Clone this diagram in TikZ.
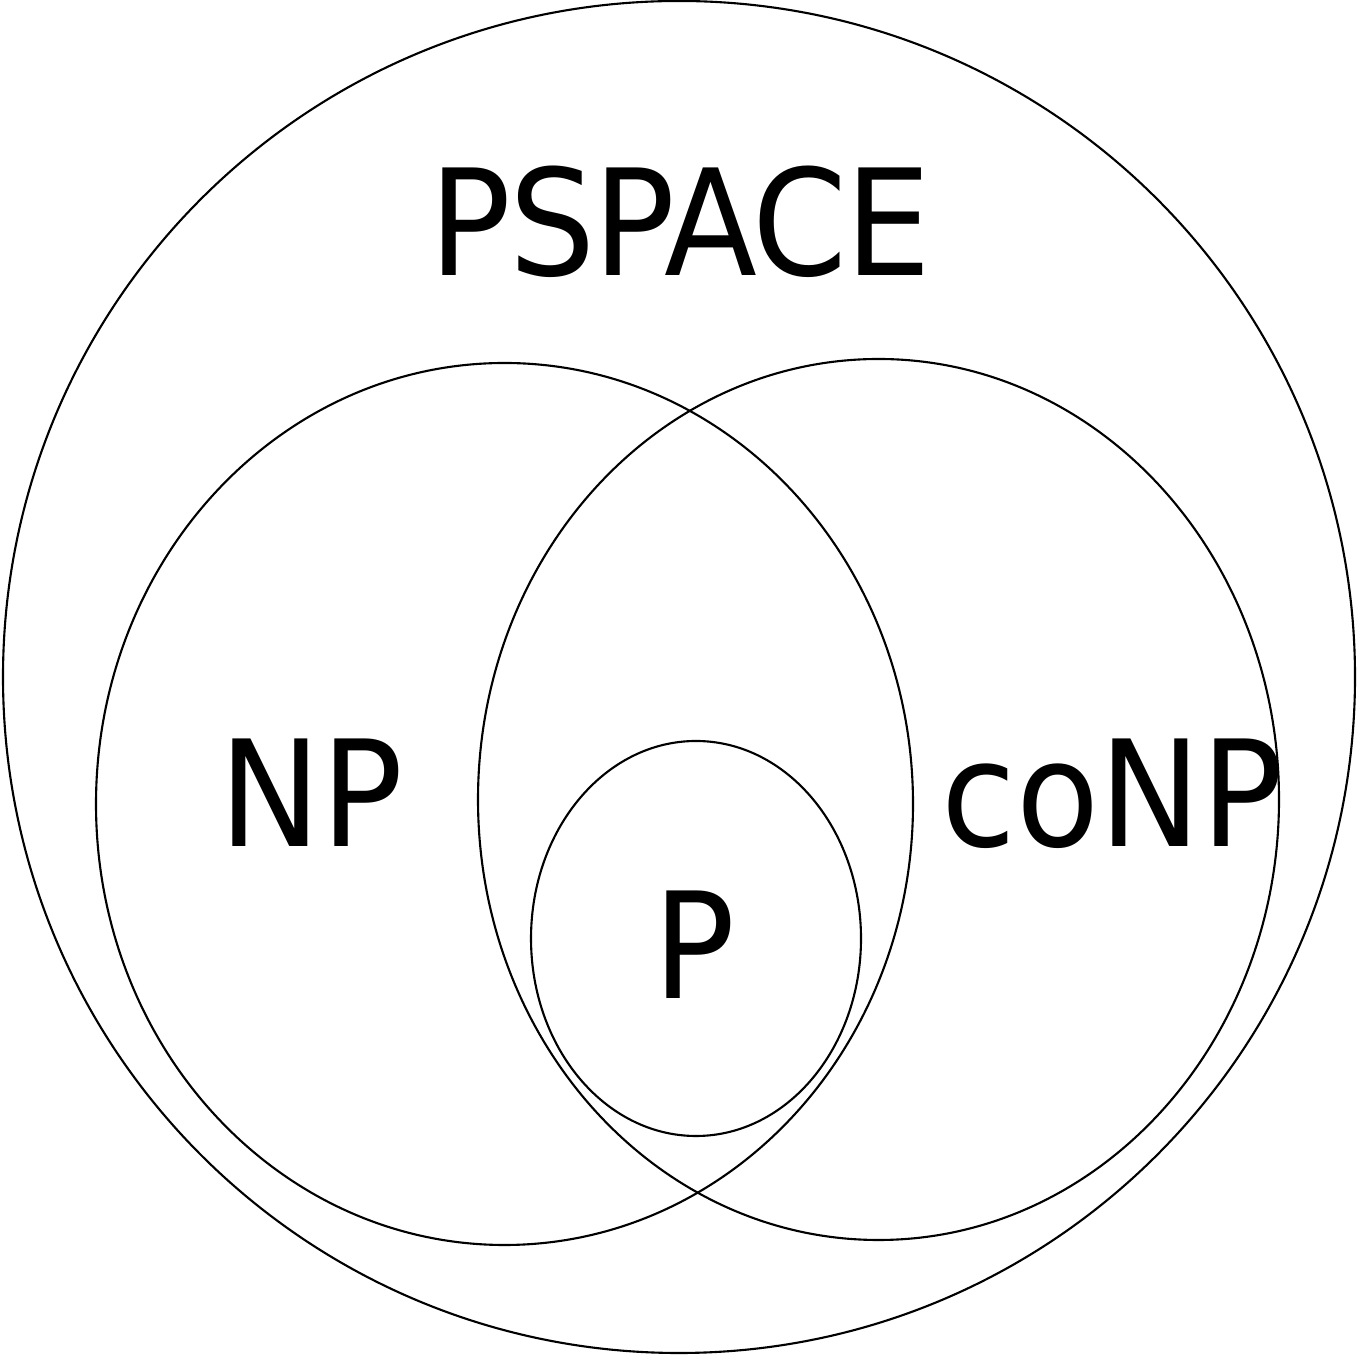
\documentclass[tikz,border=0pt]{standalone}
\usepackage{fontspec}
\setmainfont{DejaVu Sans}[FakeStretch=0.92]

\begin{document}
\begin{tikzpicture}[line width=0.6pt,
        class set/.style={draw, black},
        class label/.style={anchor=base, inner sep=0pt, font=\fontsize{42}{50}\selectfont}]

    \useasboundingbox (0,0) rectangle (13.58,13.60);

    % Klasy
    \draw[class set] (6.79,6.83) circle (6.76);
    \draw[class set] (5.045,5.56) ellipse (4.085 and 4.41);
    \draw[class set] (8.785,5.605) ellipse (4.005 and 4.405);
    \draw[class set] (6.96,4.215) ellipse (1.65 and 1.975);

    % Etykiety
    \node[class label] (pspace) at (6.805,10.84) {\addfontfeature{LetterSpace=-1.5}PSPACE};
    \node[class label] (np) at (3.115,5.13) {NP};
    \node[class label] (conp) at (11.125,5.13) {coNP};
    \node[class label] (p) at (6.94,3.61) {P};
\end{tikzpicture}
\end{document}
